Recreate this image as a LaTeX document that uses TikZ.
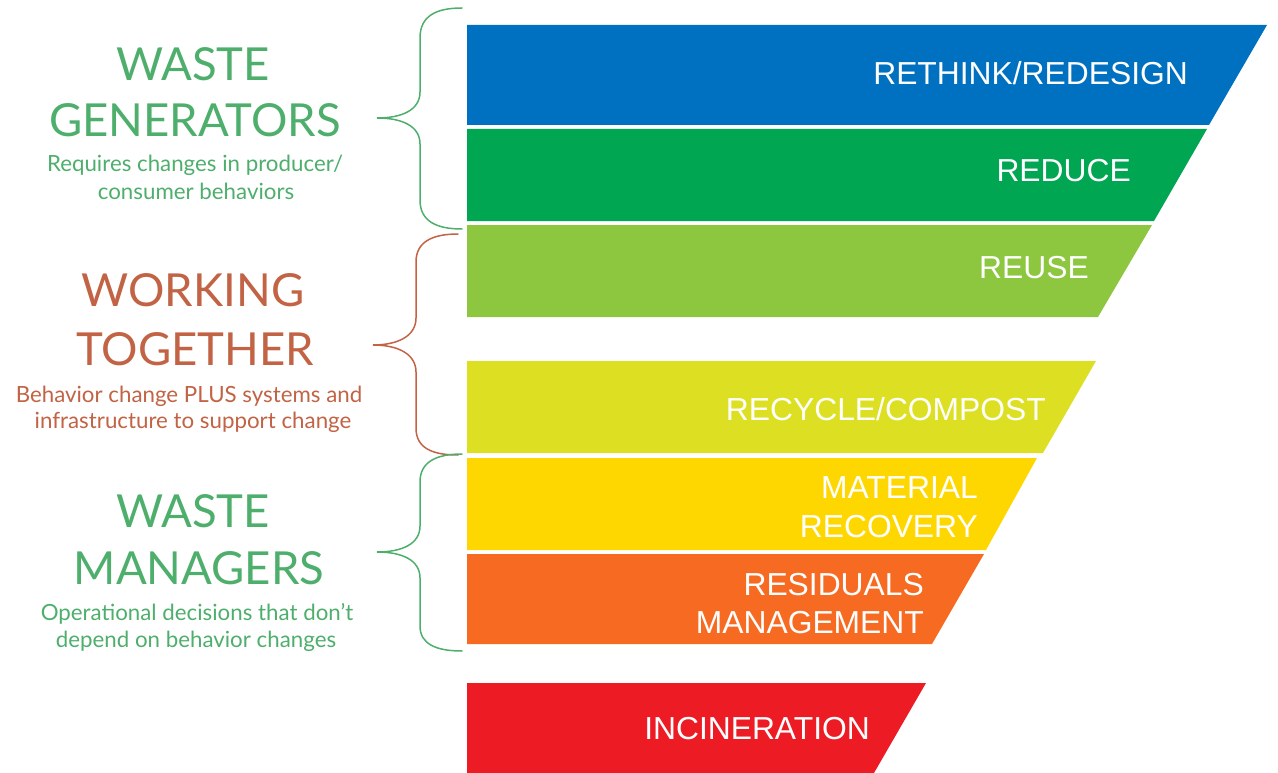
\documentclass[tikz,border=0pt]{standalone}
\usepackage{fontspec}
\newfontfamily\gill{Lato}
\newfontfamily\arialf{Liberation Sans}
\definecolor{cblue}{RGB}{0,112,192}
\definecolor{cgreen}{RGB}{0,166,81}
\definecolor{clgreen}{RGB}{141,198,63}
\definecolor{cyg}{RGB}{221,224,34}
\definecolor{cyellow}{RGB}{255,215,0}
\definecolor{corange}{RGB}{246,107,33}
\definecolor{cred}{RGB}{237,28,36}
\definecolor{tgreen}{RGB}{78,174,108}
\definecolor{tbrown}{RGB}{193,99,68}
\tikzset{
  head/.style={font=\gill\fontsize{45.5}{50}\selectfont, anchor=base, inner sep=0pt},
  sub/.style={font=\gill\fontsize{22.3}{26}\selectfont, anchor=base, inner sep=0pt},
  bartext/.style={font=\arialf\fontsize{31.8}{36}\selectfont, text=white, anchor=base east, inner sep=0pt},
  bracel/.style={line width=1.5pt, line cap=round}
}
\begin{document}
\begin{tikzpicture}[x=1pt,y=-1pt]
\useasboundingbox (0,0) rectangle (1278,773);
% bars
\fill[cblue]   (467,25)  -- (1267,25)  -- (1209,125) -- (467,125) -- cycle;
\fill[cgreen]  (467,129) -- (1207,129) -- (1154,221) -- (467,221) -- cycle;
\fill[clgreen] (467,225) -- (1152,225) -- (1098,317) -- (467,317) -- cycle;
\fill[cyg]     (467,361) -- (1096,361) -- (1043,453) -- (467,453) -- cycle;
\fill[cyellow] (467,458) -- (1037,458) -- (986,550)  -- (467,550) -- cycle;
\fill[corange] (467,554) -- (984,554)  -- (932,644)  -- (467,644) -- cycle;
\fill[cred]    (467,683) -- (926,683)  -- (874,773)  -- (467,773) -- cycle;
% bar texts
\node[bartext] (t1) at (1188,85) {RETHINK/REDESIGN};
\node[bartext] (t2) at (1131,182) {REDUCE};
\node[bartext] (t3) at (1089,278) {REUSE};
\node[bartext] (t4) at (1046,420) {RECYCLE/COMPOST};
\node[bartext] (t5a) at (978,498) {MATERIAL};
\node[bartext] (t5b) at (978,537) {RECOVERY};
\node[bartext] (t6a) at (924,595) {RESIDUALS};
\node[bartext] (t6b) at (924,633) {MANAGEMENT};
\node[bartext] (t7) at (870,739) {INCINERATION};
% braces
\draw[bracel, tgreen] (462,8) .. controls (436,8) and (420,16) .. (420,38) -- (420,92)
  .. controls (420,110) and (402,118) .. (377,118)
  .. controls (402,118) and (420,126) .. (420,144) -- (420,200)
  .. controls (420,221) and (436,229) .. (462,229);
\draw[bracel, tbrown] (458,234) .. controls (432,234) and (416,242) .. (416,262) -- (416,318)
  .. controls (416,336) and (398,345) .. (373,345)
  .. controls (398,345) and (416,354) .. (416,372) -- (416,428)
  .. controls (416,448) and (432,455) .. (458,455);
\draw[bracel, tgreen] (462,454) .. controls (436,454) and (420,462) .. (420,482) -- (420,526)
  .. controls (420,544) and (402,552) .. (377,552)
  .. controls (402,552) and (420,560) .. (420,578) -- (420,626)
  .. controls (420,644) and (436,651) .. (462,651);
% left texts
\node[head, text=tgreen] (g1) at (193,81) {WASTE};
\node[head, text=tgreen] (g2) at (195,137) {GENERATORS};
\node[sub, text=tgreen] (g3) at (195,172) {Requires changes in producer/};
\node[sub, text=tgreen] (g4) at (196,200) {consumer behaviors};
\node[head, text=tbrown] (w1) at (193,306) {WORKING};
\node[head, text=tbrown] (w2) at (195,365) {TOGETHER};
\node[sub, text=tbrown] (w3) at (189,402) {Behavior change PLUS systems and};
\node[sub, text=tbrown] (w4) at (193,428) {infrastructure to support change};
\node[head, text=tgreen] (m1) at (193,527) {WASTE};
\node[head, text=tgreen] (m2) at (199,584) {MANAGERS};
\node[sub, text=tgreen] (m3) at (197,620) {Operational decisions that don’t};
\node[sub, text=tgreen] (m4) at (196,647) {depend on behavior changes};
\end{tikzpicture}
\end{document}
